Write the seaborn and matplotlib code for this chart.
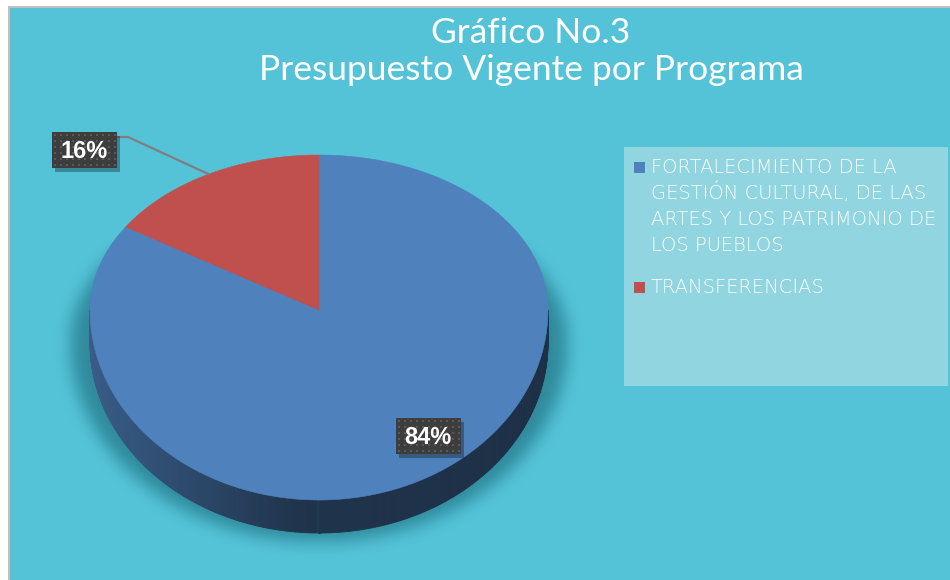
import numpy as np
import matplotlib
matplotlib.use("Agg")
import matplotlib.pyplot as plt
from matplotlib.patches import Polygon, Rectangle
import seaborn as sns

# datos
titulo = ["Gráfico No.3", "Presupuesto Vigente por Programa"]
programas = ["FORTALECIMIENTO DE LA\nGESTIÓN CULTURAL, DE LAS\nARTES Y LOS PATRIMONIO DE\nLOS PUEBLOS",
             "TRANSFERENCIAS"]
porcentajes = [84, 16]
colores = ["#4f81bd", "#c0504d"]
etiquetas_pos = [(428, 436), (84, 150)]

sns.set_theme(style="white")
plt.rcParams['font.family'] = ['Lato', 'DejaVu Sans']

FONDO = "#54c3d8"
CX, CY = 319, 310
RX, RY_TOP, RY_BOT = 229, 155, 190
DEPTH = 33


def rim(t):
    t = np.asarray(t, dtype=float)
    s = np.sin(t)
    x = CX + RX * np.cos(t)
    y = CY - np.where(s > 0, RY_TOP, RY_BOT) * s
    return x, y


def box_blur(a, k):
    ker = np.ones(k) / k
    a = np.apply_along_axis(lambda m: np.convolve(m, ker, mode="same"), 0, a)
    a = np.apply_along_axis(lambda m: np.convolve(m, ker, mode="same"), 1, a)
    return a


fig = plt.figure(figsize=(9.5, 5.8), dpi=100)
fig.patch.set_facecolor("white")
ax = fig.add_axes([0, 0, 1, 1])
ax.set_xlim(0, 950)
ax.set_ylim(580, 0)
ax.axis("off")

# marco y fondo
ax.add_patch(Rectangle((8, 6), 942, 574, facecolor="#bfbfbf", edgecolor="none"))
ax.add_patch(Rectangle((10, 8), 940, 572, facecolor=FONDO, edgecolor="none"))

# sombra difusa bajo el pastel
gx = np.arange(20, 620)
gy = np.arange(240, 580)
X, Y = np.meshgrid(gx, gy)
cys = CY + 32
u = (X - CX) / (RX + 20)
v = (Y - cys) / np.where(Y < cys, RY_TOP, RY_BOT + 10)
mask = (u ** 2 + v ** 2 <= 1).astype(float)
soft = box_blur(box_blur(mask, 19), 19)
rgba = np.zeros(soft.shape + (4,))
rgba[..., :3] = np.array([10, 80, 95]) / 255
rgba[..., 3] = 0.5 * soft
ax.imshow(rgba, extent=(gx[0], gx[-1], gy[-1], gy[0]), aspect="auto", zorder=1)
ax.set_xlim(0, 950)
ax.set_ylim(580, 0)

# ángulos de cada porción (inicio a las 12, sentido horario)
total = sum(porcentajes)
limites = [np.pi / 2]
for p in porcentajes:
    limites.append(limites[-1] - 2 * np.pi * p / total)


def porcion_de(t):
    t = (t - limites[-1]) % (2 * np.pi) + limites[-1]
    for i in range(len(porcentajes)):
        if limites[i + 1] <= t <= limites[i]:
            return i
    return 0


# cara lateral con degradado
ts = np.linspace(np.pi, 2 * np.pi, 260)
for a, b in zip(ts[:-1], ts[1:]):
    xa, ya = rim(a)
    xb, yb = rim(b)
    i = porcion_de((a + b) / 2)
    xm = (xa + xb) / 2
    f = np.interp(xm, [CX - RX, CX - 20, CX + RX], [0.72, 0.40, 0.37])
    base = np.array(matplotlib.colors.to_rgb(colores[i]))
    c = base * f
    ax.add_patch(Polygon([(xa, ya), (xb, yb), (xb, yb + DEPTH), (xa, ya + DEPTH)],
                         closed=True, facecolor=c, edgecolor=c, linewidth=0.6, zorder=2))

# cara superior
for i in range(len(porcentajes)):
    t = np.linspace(limites[i], limites[i + 1], 300)
    x, y = rim(t)
    pts = [(CX, CY)] + list(zip(x, y))
    ax.add_patch(Polygon(pts, closed=True, facecolor=colores[i], edgecolor=colores[i],
                         linewidth=0.4, zorder=3))

# línea guía para la porción pequeña
tm = (limites[1] + limites[2]) / 2
xm, ym = rim(tm)
lx, ly = etiquetas_pos[1]
ax.plot([lx + 32, lx + 44, xm], [ly - 13, ly - 13, ym], color="#7f7f7f", lw=1.6, zorder=4)

# etiquetas de porcentaje
for (x, y), p in zip(etiquetas_pos, porcentajes):
    w, h = 65, 36
    ax.add_patch(Rectangle((x - w / 2 + 3, y - h / 2 + 4), w, h, facecolor="black",
                           alpha=0.3, edgecolor="none", zorder=5))
    ax.add_patch(Rectangle((x - w / 2, y - h / 2), w, h, facecolor="#3d3d3d",
                           edgecolor="none", zorder=6))
    dx = np.arange(x - w / 2 + 3, x + w / 2 - 1, 6)
    dy = np.arange(y - h / 2 + 3, y + h / 2 - 1, 6)
    DX, DY = np.meshgrid(dx, dy)
    ax.scatter(DX.ravel(), DY.ravel(), s=1.2, marker="s", color="#595959",
               linewidths=0, zorder=7)
    ax.text(x, y + 1, f"{p}%", ha="center", va="center", color="white",
            fontsize=17, fontweight="bold", family=["Liberation Sans", "DejaVu Sans"], zorder=8)

# título
for k, linea in enumerate(titulo):
    ax.text(531, 43 + 37 * k, linea, ha="center", va="baseline", color="white",
            fontsize=25.5, zorder=8)

# leyenda
ax.add_patch(Rectangle((624, 147), 324, 239, facecolor="#90d5e0", edgecolor="none", zorder=2))
yb = 173
for c, nombre in zip(colores, programas):
    ax.add_patch(Rectangle((634, yb - 11), 11, 11, facecolor=c, edgecolor="none", zorder=3))
    for linea in nombre.split("\n"):
        ax.text(651, yb, linea, ha="left", va="baseline", color="white", fontsize=14,
                fontweight="light", family=["DejaVu Sans"], zorder=3)
        yb += 26
    yb += 16

fig.savefig("out.png", dpi=100, facecolor=fig.get_facecolor())
